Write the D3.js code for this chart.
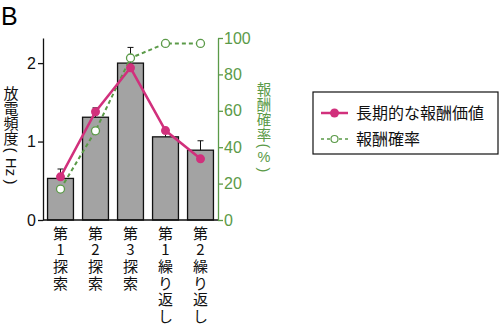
<!DOCTYPE html>
<html>
<head>
<meta charset="utf-8">
<script src="https://cdn.jsdelivr.net/npm/d3@7"></script>
<style>
  body { margin: 0; background: #fff; }
  text { font-family: "Liberation Sans", Arial, sans-serif; }
  .jp { font-family: "Noto Sans CJK JP", sans-serif; }
</style>
</head>
<body>
<div id="my_dataviz"></div>
<script>
var categories = ["第1探索", "第2探索", "第3探索", "第1繰り返し", "第2繰り返し"];
var firingRate = [0.53, 1.31, 2.0, 1.06, 0.89];
var firingErr  = [0.12, 0.12, 0.2, 0.05, 0.12];
var rewardValue = [0.55, 1.38, 1.94, 1.14, 0.78];
var rewardProb  = [17, 49, 89, 97, 97];
var leftTicks  = [0, 1, 2];
var rightTicks = [0, 20, 40, 60, 80, 100];

var pink = "#d1307c",
    green = "#5b9a48";

var svg = d3.select("#my_dataviz")
  .append("svg")
  .attr("width", 500)
  .attr("height", 325);

var x = d3.scaleBand()
  .domain(categories)
  .range([43, 218])
  .paddingInner(0.26)
  .paddingOuter(0.13);

var yL = d3.scaleLinear().domain([0, 2.32]).range([220, 38]);
var yR = d3.scaleLinear().domain([0, 100]).range([220, 38]);

// one glyph (or short run) per element; rot = turned sideways like in vertical typesetting
function vtext(cx, items, size, color) {
  items.forEach(function(it) {
    var t = svg.append("text")
      .attr("class", it.jp ? "jp" : null)
      .attr("font-size", size)
      .attr("fill", color)
      .attr("text-anchor", "middle")
      .attr("dominant-baseline", "central")
      .text(it.t);
    if (it.rot) {
      t.attr("transform", "translate(" + cx + "," + it.y + ") rotate(90)");
    } else {
      t.attr("x", cx).attr("y", it.y);
    }
  });
}

// panel letter
svg.append("text")
  .attr("x", 1).attr("y", 25)
  .attr("font-size", 25)
  .text("B");

// bars
svg.selectAll(".bar")
  .data(categories)
  .enter().append("rect")
  .attr("x", function(d) { return x(d); })
  .attr("y", function(d, i) { return yL(firingRate[i]); })
  .attr("width", x.bandwidth())
  .attr("height", function(d, i) { return yL(0) - yL(firingRate[i]); })
  .attr("fill", "#a3a3a3")
  .attr("stroke", "#111")
  .attr("stroke-width", 1.3);

// error bars (upper side only)
categories.forEach(function(d, i) {
  var cx = x(d) + x.bandwidth() / 2;
  var top = yL(firingRate[i] + firingErr[i]);
  svg.append("line")
    .attr("x1", cx).attr("x2", cx)
    .attr("y1", yL(firingRate[i])).attr("y2", top)
    .attr("stroke", "#111").attr("stroke-width", 1);
  svg.append("line")
    .attr("x1", cx - 3).attr("x2", cx + 3)
    .attr("y1", top).attr("y2", top)
    .attr("stroke", "#111").attr("stroke-width", 1);
});

// axes
var gL = svg.append("g")
  .attr("transform", "translate(43,0)")
  .call(d3.axisLeft(yL).tickValues(leftTicks).tickFormat(d3.format("d")).tickSize(5).tickSizeOuter(0));
gL.selectAll("text").attr("font-size", 16).attr("fill", "#111").attr("x", -7);
gL.selectAll("line, path").attr("stroke", "#111").attr("stroke-width", 1.3);

svg.append("line")
  .attr("x1", 43).attr("x2", 218)
  .attr("y1", yL(0)).attr("y2", yL(0))
  .attr("stroke", "#111").attr("stroke-width", 1.3);

var gR = svg.append("g")
  .attr("transform", "translate(218,0)")
  .call(d3.axisRight(yR).tickValues(rightTicks).tickSize(5).tickSizeOuter(0));
gR.selectAll("text").attr("font-size", 16).attr("fill", green).attr("x", 6);
gR.selectAll("line, path").attr("stroke", green).attr("stroke-width", 1.3);

// reward probability (dashed green, open circles)
var lineR = d3.line()
  .x(function(d, i) { return x(categories[i]) + x.bandwidth() / 2; })
  .y(function(d) { return yR(d); });

svg.append("path")
  .datum(rewardProb)
  .attr("fill", "none")
  .attr("stroke", green)
  .attr("stroke-width", 2)
  .attr("stroke-dasharray", "4,3")
  .attr("d", lineR);

svg.selectAll(".prob")
  .data(rewardProb)
  .enter().append("circle")
  .attr("cx", function(d, i) { return x(categories[i]) + x.bandwidth() / 2; })
  .attr("cy", function(d) { return yR(d); })
  .attr("r", 4)
  .attr("fill", "#fff")
  .attr("stroke", green)
  .attr("stroke-width", 1.3);

// long-term reward value (pink)
var lineV = d3.line()
  .x(function(d, i) { return x(categories[i]) + x.bandwidth() / 2; })
  .y(function(d) { return yL(d); });

svg.append("path")
  .datum(rewardValue)
  .attr("fill", "none")
  .attr("stroke", pink)
  .attr("stroke-width", 2.5)
  .attr("d", lineV);

svg.selectAll(".val")
  .data(rewardValue)
  .enter().append("circle")
  .attr("cx", function(d, i) { return x(categories[i]) + x.bandwidth() / 2; })
  .attr("cy", function(d) { return yL(d); })
  .attr("r", 4.5)
  .attr("fill", pink);

// category labels, one character per line
categories.forEach(function(d) {
  var cx = x(d) + x.bandwidth() / 2;
  vtext(cx, Array.from(d).map(function(ch, k) {
    return { t: ch, y: 232 + k * 16.7, jp: true };
  }), 15, "#111");
});

// axis titles
vtext(11, [
  { t: "放", y: 92, jp: true },
  { t: "電", y: 107, jp: true },
  { t: "頻", y: 122, jp: true },
  { t: "度", y: 137, jp: true },
  { t: "(", y: 150, rot: true },
  { t: "Hz", y: 167, rot: true },
  { t: ")", y: 182, rot: true }
], 15, "#111");

vtext(264, [
  { t: "報", y: 88, jp: true },
  { t: "酬", y: 103.5, jp: true },
  { t: "確", y: 118.5, jp: true },
  { t: "率", y: 133.5, jp: true },
  { t: "(", y: 146, rot: true },
  { t: "%", y: 157 },
  { t: ")", y: 170, rot: true }
], 14.5, green);

// legend
svg.append("rect")
  .attr("x", 313).attr("y", 92)
  .attr("width", 185).attr("height", 62)
  .attr("fill", "none")
  .attr("stroke", "#111")
  .attr("stroke-width", 1.2);

svg.append("line")
  .attr("x1", 321).attr("x2", 348).attr("y1", 113).attr("y2", 113)
  .attr("stroke", pink).attr("stroke-width", 2.5);
svg.append("circle")
  .attr("cx", 334.5).attr("cy", 113).attr("r", 4.5).attr("fill", pink);
svg.append("text")
  .attr("class", "jp")
  .attr("x", 356).attr("y", 113)
  .attr("dy", "0.35em")
  .attr("font-size", 16)
  .attr("fill", "#111")
  .text("長期的な報酬価値");

svg.append("line")
  .attr("x1", 321).attr("x2", 348).attr("y1", 139).attr("y2", 139)
  .attr("stroke", green).attr("stroke-width", 1.5)
  .attr("stroke-dasharray", "3,3");
svg.append("circle")
  .attr("cx", 334.5).attr("cy", 139).attr("r", 3.5)
  .attr("fill", "#fff").attr("stroke", green).attr("stroke-width", 1.2);
svg.append("text")
  .attr("class", "jp")
  .attr("x", 356).attr("y", 139)
  .attr("dy", "0.35em")
  .attr("font-size", 16)
  .attr("fill", "#111")
  .text("報酬確率");
</script>
</body>
</html>
